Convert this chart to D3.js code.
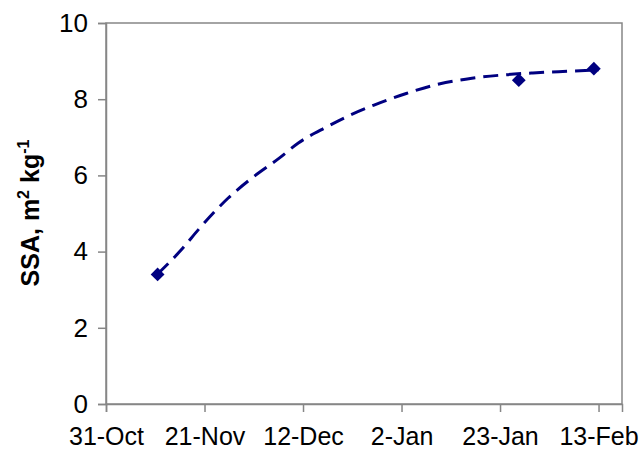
<!DOCTYPE html>
<html>
<head>
<meta charset="utf-8">
<script src="https://cdn.jsdelivr.net/npm/d3@7"></script>
<style>
  body { margin: 0; background: #fff; }
  svg { display: block; font-family: "Liberation Sans", Arial, sans-serif; }
</style>
</head>
<body>
<svg id="chart"></svg>
<script>
var chartWidth = 641;
var chartHeight = 452;

/********
 * Data *
 ********/

// measured SSA points
var pointDates = ["2006-11-11", "2007-01-27", "2007-02-12"];
var pointValues = [3.4, 8.5, 8.8];

// dashed trend curve
var trendDates = ["2006-11-11", "2006-11-16", "2006-11-20", "2006-11-26", "2006-12-01",
                  "2006-12-07", "2006-12-11", "2006-12-17", "2006-12-22", "2006-12-27",
                  "2007-01-03", "2007-01-10", "2007-01-17", "2007-01-24", "2007-01-30",
                  "2007-02-08", "2007-02-13"];
var trendValues = [3.41, 4.04, 4.62, 5.40, 5.92,
                   6.46, 6.85, 7.27, 7.58, 7.84,
                   8.15, 8.40, 8.55, 8.64, 8.69,
                   8.74, 8.77];

var xTickDates = ["2006-10-31", "2006-11-21", "2006-12-12", "2007-01-02", "2007-01-23", "2007-02-13"];
var yTickValues = [0, 2, 4, 6, 8, 10];

var parse = d3.timeParse("%Y-%m-%d");

/**********
 * Scales *
 **********/

var x = d3.scaleTime()
    .domain([parse("2006-10-31"), parse("2007-02-18")])
    .range([106, 622]);

var y = d3.scaleLinear()
    .domain([0, 10])
    .range([404, 23]);

var svg = d3.select("#chart")
    .attr("width", chartWidth)
    .attr("height", chartHeight);

// plot area border
svg.append("rect")
    .attr("x", x.range()[0])
    .attr("y", y.range()[1])
    .attr("width", x.range()[1] - x.range()[0])
    .attr("height", y.range()[0] - y.range()[1])
    .attr("fill", "none")
    .attr("stroke", "#868686")
    .attr("stroke-width", 1.5);

/********
 * Axes *
 ********/

var xAxis = d3.axisBottom(x)
    .tickValues(xTickDates.map(parse))
    .tickFormat(d3.timeFormat("%-d-%b"))
    .tickSize(8)
    .tickPadding(15);

var yAxis = d3.axisLeft(y)
    .tickValues(yTickValues)
    .tickSize(8)
    .tickPadding(10);

var xAxisGroup = svg.append("g")
    .attr("transform", "translate(0," + y.range()[0] + ")")
    .call(xAxis);

var yAxisGroup = svg.append("g")
    .attr("transform", "translate(" + x.range()[0] + ",0)")
    .call(yAxis);

[xAxisGroup, yAxisGroup].forEach(function(g) {
    g.select(".domain").attr("stroke", "#868686").attr("stroke-width", 1.5);
    g.selectAll(".tick line").attr("stroke", "#868686").attr("stroke-width", 1.5);
    g.selectAll(".tick text")
        .attr("fill", "#000")
        .style("font-family", "'Liberation Sans', Arial, sans-serif")
        .style("font-size", "25px");
});

yAxisGroup.selectAll(".tick text").style("font-size", "26px");

/*********
 * Trend *
 *********/

var trend = trendDates.map(function(d, i) { return { date: parse(d), value: trendValues[i] }; });

var line = d3.line()
    .x(function(d) { return x(d.date); })
    .y(function(d) { return y(d.value); })
    .curve(d3.curveMonotoneX);

svg.append("path")
    .datum(trend)
    .attr("d", line)
    .attr("fill", "none")
    .attr("stroke", "#000080")
    .attr("stroke-width", 3)
    .attr("stroke-dasharray", "15,8");

/**********
 * Points *
 **********/

var points = pointDates.map(function(d, i) { return { date: parse(d), value: pointValues[i] }; });

svg.selectAll(".pt")
    .data(points)
    .enter().append("path")
    .attr("class", "pt")
    .attr("d", d3.symbol().type(d3.symbolSquare).size(95))
    .attr("transform", function(d) {
        return "translate(" + x(d.date) + "," + y(d.value) + ") rotate(45)";
    })
    .attr("fill", "#000080");

/**********
 * Labels *
 **********/

var yLabel = svg.append("text")
    .attr("transform", "translate(39,213) rotate(-90)")
    .attr("text-anchor", "middle")
    .style("font-size", "25px")
    .style("font-weight", "bold");

yLabel.append("tspan").text("SSA,  m");
yLabel.append("tspan").attr("dy", -10).style("font-size", "16px").text("2");
yLabel.append("tspan").attr("dy", 10).text(" kg");
yLabel.append("tspan").attr("dy", -10).style("font-size", "16px").text("-1");
</script>
</body>
</html>
